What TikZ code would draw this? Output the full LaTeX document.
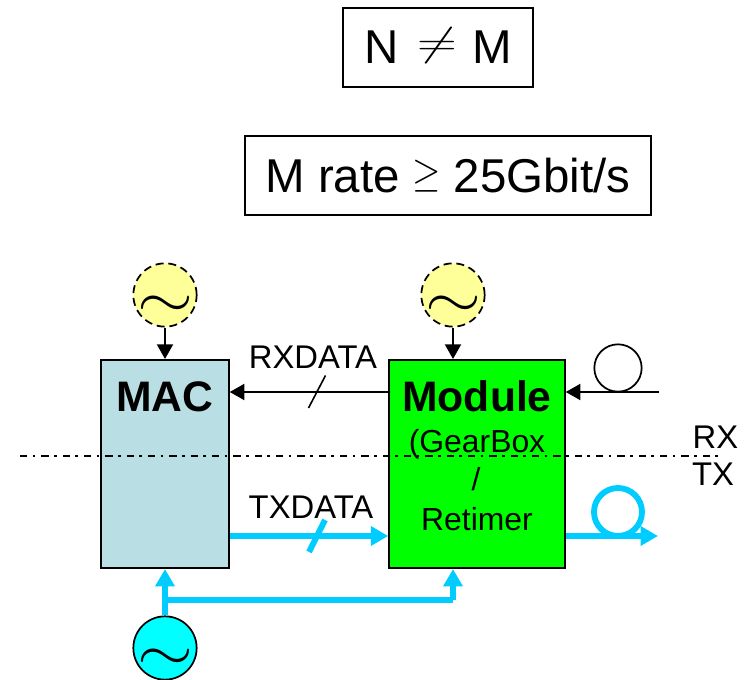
\documentclass[tikz,border=0pt]{standalone}
\usepackage{fontspec}
\setmainfont{Liberation Sans}
\usetikzlibrary{arrows.meta,calc}
\definecolor{cyanline}{HTML}{00CCFF}
\definecolor{clockcyan}{HTML}{00FFFF}
\definecolor{clockyellow}{HTML}{FFFF99}
\definecolor{macblue}{HTML}{B9DFE4}
\definecolor{modgreen}{HTML}{00FF00}
\newcommand{\wavesym}{\smash{\raisebox{-17pt}{\scalebox{5.4}[4.4]{$\sim$}}}}
\tikzset{
  px/.style={x=0.75pt,y=-0.75pt},
  framebox/.style={draw=black,line width=1.5pt,inner sep=0pt,font=\fontsize{35.6}{40}\selectfont},
  blockbox/.style={draw=black,line width=1.5pt,inner sep=0pt,minimum height=156pt},
  clock/.style={circle,draw=black,line width=1.3pt,inner sep=0pt,minimum size=47.5pt},
  clockdash/.style={clock,dash pattern=on 6pt off 3.6pt,fill=clockyellow},
  boldtext/.style={inner sep=0pt,anchor=base,font=\bfseries\fontsize{32}{36}\selectfont},
  plaintext/.style={inner sep=0pt,anchor=base,font=\fontsize{24.6}{28}\selectfont},
  modtext/.style={inner sep=0pt,anchor=base,font=\fontsize{23.9}{28}\selectfont},
  blackarrow/.style={draw=black,line width=1.5pt,-{Triangle[length=11pt,width=12pt]}},
  cyanarrow/.style={draw=cyanline,line width=4.4pt,-{Triangle[length=13pt,width=14pt]}},
  cyanplain/.style={draw=cyanline,line width=4.4pt},
  loopthin/.style={circle,draw=black,line width=1.3pt,inner sep=0pt,minimum size=35.5pt},
  loopthick/.style={circle,draw=cyanline,line width=4.4pt,inner sep=0pt,minimum size=36pt},
  rxtxline/.style={draw=black,line width=1.1pt,dash pattern=on 5.5pt off 4pt on 2pt off 4.5pt},
}
\begin{document}
\begin{tikzpicture}[px]
\useasboundingbox (0,0) rectangle (744,680);

\node[framebox,minimum width=142.5pt,minimum height=59.25pt] (neq) at (438,47.5) {N\hspace{13.9pt}\smash{\raisebox{6.4pt}{\scalebox{1.66}[1.2]{$\neq$}}}\hspace{11.7pt}M};
\node[framebox,minimum width=304.5pt,minimum height=59.25pt] (rate) at (448,175.5) {M rate\hspace{9.6pt}\smash{\raisebox{4.3pt}{\scalebox{1.1}[1.25]{$\geq$}}}\hspace{9.6pt}25Gbit/s\hspace{1.5pt}};

\node[blockbox,fill=macblue,minimum width=95.6pt] (mac) at (165,464) {};
\node[blockbox,fill=modgreen,minimum width=131.6pt] (module) at (477,464) {};

\node[boldtext] (mactext) at (165,412) {MAC};
\node[boldtext] (modtext) at (477,412) {Module};
\node[modtext] (gear) at (477,453) {(GearBox};
\node[modtext] (slashtext) at (476,491) {/};
\node[modtext] (retimer) at (477,531) {Retimer};

\node[clockdash] (clkmac) at (165,295) {\wavesym};
\node[clockdash] (clkmod) at (453,295) {\wavesym};
\node[clock,fill=clockcyan] (clktx) at (165,648) {\wavesym};

\node[loopthin] (rxloop) at (618,368) {};
\node[loopthick] (txloop) at (618,512) {};

\coordinate (rxfree) at (659,392);
\coordinate (txfree) at (658,536);
\coordinate (txlink) at (0,536);
\coordinate (busy) at (0,600);

% black connectors
\draw[blackarrow] (clkmac.south) -- (mac.north);
\draw[blackarrow] (clkmod.south) -- (clkmod.south |- module.north);
\draw[blackarrow] (rxfree -| module.west) -- (rxfree -| mac.east);
\draw[blackarrow] (rxfree) -- (rxfree -| module.east);

\coordinate (rxa) at (308.5,408);
\coordinate (rxb) at (325.5,375.5);
\draw[draw=black,line width=1.2pt] (rxa) -- (rxb);

% cyan connectors
\draw[cyanarrow] (txlink -| mac.east) -- (txlink -| module.west);
\draw[cyanarrow] (txlink -| module.east) -- (txfree);
\coordinate (txa) at (309,552);
\coordinate (txb) at (325,520);
\draw[cyanplain] (txa) -- (txb);
\draw[cyanarrow] (clktx.north) -- (mac.south);
\draw[cyanplain] (busy -| clktx.north) -- (busy -| clkmod.south);
\draw[cyanarrow] (busy -| clkmod.south) -- (module.south -| clkmod.south);

\node[plaintext] (rxdata) at (313,369) {RXDATA};
\node[plaintext] (txdata) at (311,519) {TXDATA};
\node[plaintext] (rxlabel) at (715.5,449) {RX};
\node[plaintext] (txlabel) at (713,486) {TX};

\coordinate (rxtxl) at (20,456);
\coordinate (rxtxr) at (718,456);
\draw[rxtxline] (rxtxl) -- (rxtxr);
\end{tikzpicture}
\end{document}
